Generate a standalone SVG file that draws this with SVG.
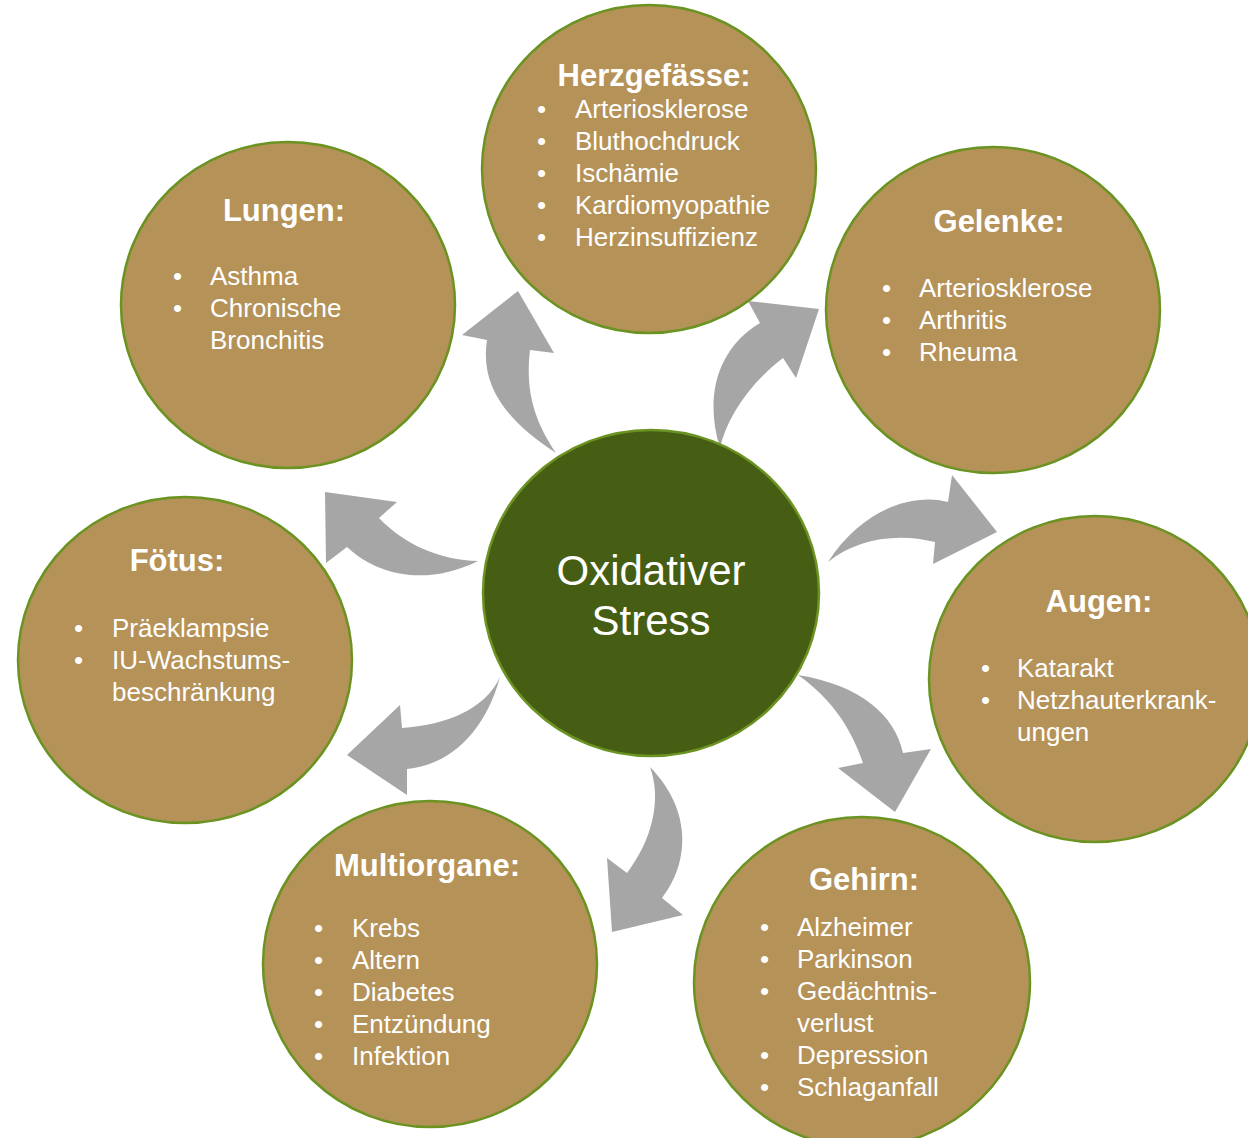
<svg xmlns="http://www.w3.org/2000/svg" width="1248" height="1138" viewBox="0 0 1248 1138">
<style>
.organ{fill:#B59258;stroke:#6A9322;stroke-width:2.5}
.core{fill:#465E13;stroke:#6A9322;stroke-width:2.5}
.arrow{fill:#A6A6A6}
text{font-family:"Liberation Sans",Arial,sans-serif;fill:#FFFFFF}
.t{font-size:31px;font-weight:bold;text-anchor:middle}
.i{font-size:26px}
.c{font-size:42px;text-anchor:middle}
</style>
<rect width="1248" height="1138" fill="#FFFFFF"/>
<g id="connectors">
<path class="arrow" d="M556,453 C505,420 480,385 487,340 L462,335 L518,291 L554,353 L530,350 C525,392 535,422 556,453 Z"/>
<path class="arrow" d="M720,448 C705,400 715,350 760,323 L748,301 L819,309 L796,378 L783,358 C748,385 727,418 720,448 Z"/>
<path class="arrow" d="M828,562 C860,512 910,492 948,502 L952,475 L997,532 L933,564 L935,542 C895,532 855,540 828,562 Z"/>
<path class="arrow" d="M798,675 C860,685 895,715 903,753 L931,749 L895,812 L838,768 L863,763 C850,725 830,698 798,675 Z"/>
<path class="arrow" d="M650,767 C692,810 690,862 662,898 L683,915 L612,932 L607,858 L627,873 C652,840 662,800 650,767 Z"/>
<path class="arrow" d="M500,677 C485,732 450,765 407,769 L407,795 L347,755 L400,705 L402,728 C445,725 485,710 500,677 Z"/>
<path class="arrow" d="M478,561 C430,585 380,578 347,547 L326,563 L325,492 L397,502 L379,518 C405,545 440,560 478,561 Z"/>
</g>
<g id="herzgefaesse">
<ellipse class="organ" cx="649" cy="169" rx="167" ry="164"/>
<text class="t" x="654" y="86">Herzgefässe:</text>
<g class="i">
<text x="537" y="118">•</text><text x="575" y="118">Arteriosklerose</text>
<text x="537" y="150">•</text><text x="575" y="150">Bluthochdruck</text>
<text x="537" y="182">•</text><text x="575" y="182">Ischämie</text>
<text x="537" y="214">•</text><text x="575" y="214">Kardiomyopathie</text>
<text x="537" y="246">•</text><text x="575" y="246">Herzinsuffizienz</text>
</g>
</g>
<g id="lungen">
<ellipse class="organ" cx="288" cy="305" rx="167" ry="163"/>
<text class="t" x="284" y="221">Lungen:</text>
<g class="i">
<text x="173" y="285">•</text><text x="210" y="285">Asthma</text>
<text x="173" y="317">•</text><text x="210" y="317">Chronische</text>
<text x="210" y="349">Bronchitis</text>
</g>
</g>
<g id="gelenke">
<ellipse class="organ" cx="993" cy="310" rx="167" ry="163"/>
<text class="t" x="999" y="232">Gelenke:</text>
<g class="i">
<text x="882" y="297">•</text><text x="919" y="297">Arteriosklerose</text>
<text x="882" y="329">•</text><text x="919" y="329">Arthritis</text>
<text x="882" y="361">•</text><text x="919" y="361">Rheuma</text>
</g>
</g>
<g id="augen">
<ellipse class="organ" cx="1095" cy="679" rx="166" ry="163"/>
<text class="t" x="1099" y="612">Augen:</text>
<g class="i">
<text x="981" y="677">•</text><text x="1017" y="677">Katarakt</text>
<text x="981" y="709">•</text><text x="1017" y="709">Netzhauterkrank-</text>
<text x="1017" y="741">ungen</text>
</g>
</g>
<g id="foetus">
<ellipse class="organ" cx="185" cy="660" rx="167" ry="163"/>
<text class="t" x="177" y="571">Fötus:</text>
<g class="i">
<text x="74" y="637">•</text><text x="112" y="637">Präeklampsie</text>
<text x="74" y="669">•</text><text x="112" y="669">IU-Wachstums-</text>
<text x="112" y="701">beschränkung</text>
</g>
</g>
<g id="multiorgane">
<ellipse class="organ" cx="430" cy="964" rx="167" ry="163"/>
<text class="t" x="427" y="876">Multiorgane:</text>
<g class="i">
<text x="314" y="937">•</text><text x="352" y="937">Krebs</text>
<text x="314" y="969">•</text><text x="352" y="969">Altern</text>
<text x="314" y="1001">•</text><text x="352" y="1001">Diabetes</text>
<text x="314" y="1033">•</text><text x="352" y="1033">Entzündung</text>
<text x="314" y="1065">•</text><text x="352" y="1065">Infektion</text>
</g>
</g>
<g id="gehirn">
<ellipse class="organ" cx="862" cy="982" rx="168" ry="165"/>
<text class="t" x="864" y="890">Gehirn:</text>
<g class="i">
<text x="760" y="936">•</text><text x="797" y="936">Alzheimer</text>
<text x="760" y="968">•</text><text x="797" y="968">Parkinson</text>
<text x="760" y="1000">•</text><text x="797" y="1000">Gedächtnis-</text>
<text x="797" y="1032">verlust</text>
<text x="760" y="1064">•</text><text x="797" y="1064">Depression</text>
<text x="760" y="1096">•</text><text x="797" y="1096">Schlaganfall</text>
</g>
</g>
<g id="oxidativer-stress">
<ellipse class="core" cx="651" cy="593" rx="168" ry="163"/>
<text class="c" x="651" y="585">Oxidativer</text>
<text class="c" x="651" y="635">Stress</text>
</g>
</svg>
